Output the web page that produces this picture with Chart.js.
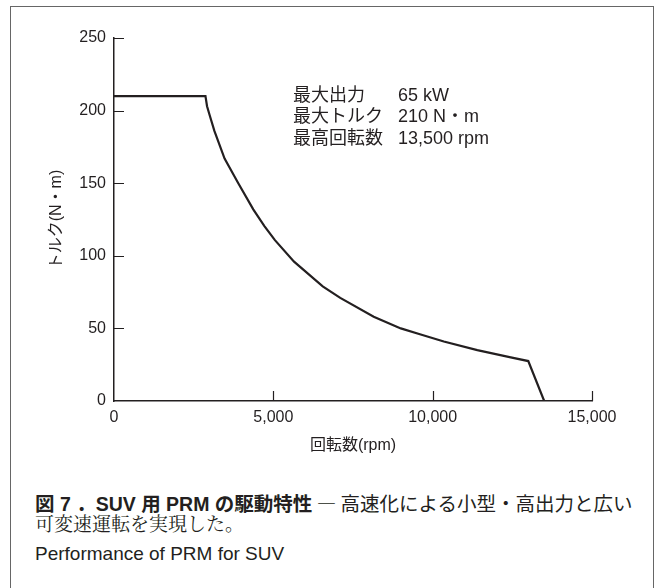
<!DOCTYPE html>
<html>
<head>
<meta charset="utf-8">
<script src="https://cdn.jsdelivr.net/npm/chart.js@4/dist/chart.umd.min.js"></script>
<style>
    body { margin: 0; background: #fff; }
    #wrap { position: relative; width: 659px; height: 588px; overflow: hidden; }
    #frame { position: absolute; left: 10px; top: 6px; width: 644px; height: 620px; border: 1px solid #666; box-sizing: border-box; }
    #chart { position: absolute; left: 0; top: 0; }
    .cap { position: absolute; left: 35px; color: #231f20; white-space: nowrap; font-family: "Noto Sans CJK JP", sans-serif; }
    #cap1 { top: 493px; font-size: 19.5px; line-height: 20px; }
    #cap1 b { font-family: "Liberation Sans", "Noto Sans CJK JP", sans-serif; }
    #cap2 { top: 513px; font-size: 19px; line-height: 20px; font-family: "Noto Serif CJK JP", "Noto Sans CJK JP", serif; }
    #cap3 { top: 543px; font-size: 19px; line-height: 22px; font-family: "Liberation Sans", sans-serif; }
</style>
</head>
<body>
<div id="wrap">
    <div id="frame"></div>
    <canvas id="chart" width="659" height="470"></canvas>
    <div class="cap" id="cap1"><b>図 7 ．SUV 用 PRM の駆動特性</b> ― 高速化による小型・高出力と広い</div>
    <div class="cap" id="cap2">可変速運転を実現した。</div>
    <div class="cap" id="cap3">Performance of PRM for SUV</div>
</div>
<script>
// values
var rpm = [0, 2870, 2920, 3000, 3150, 3470, 3900, 4370, 4720, 5050, 5650, 6550, 7100, 8150, 9000, 9600, 10350, 11400, 12450, 13000, 13500];
var torque = [210, 210, 203, 197, 186, 167, 150, 132, 120.5, 110.8, 96, 79, 71, 58, 50, 46, 41, 35, 30, 27.5, 0];
var xTicks = [0, 5000, 10000, 15000];
var yTicks = [0, 50, 100, 150, 200, 250];
var specNames = ["最大出力", "最大トルク", "最高回転数"];
var specValues = ["65 kW", "210 N・m", "13,500 rpm"];

var ink = "#231f20";
var latin = "'Liberation Sans', 'Noto Sans CJK JP', sans-serif";

var points = rpm.map(function (r, i) {
    return { x: r, y: torque[i] };
});

// inward tick marks + spec text
var extras = {
    id: "extras",
    afterDraw: function (chart) {
        var ctx = chart.ctx;
        var xs = chart.scales.x;
        var ys = chart.scales.y;
        ctx.save();
        ctx.strokeStyle = ink;
        ctx.lineWidth = 1.2;
        ctx.beginPath();
        xTicks.forEach(function (v) {
            if (v === 0) return;
            var px = Math.round(xs.getPixelForValue(v)) + 0.5;
            ctx.moveTo(px, ys.bottom);
            ctx.lineTo(px, ys.bottom - 10);
        });
        yTicks.forEach(function (v) {
            if (v === 0) return;
            var py = Math.round(ys.getPixelForValue(v)) + 0.5;
            ctx.moveTo(xs.left, py);
            ctx.lineTo(xs.left + 10, py);
        });
        ctx.stroke();

        ctx.fillStyle = ink;
        ctx.font = "18px " + latin;
        ctx.textBaseline = "middle";
        specNames.forEach(function (name, i) {
            var y = 96 + i * 21.5;
            ctx.fillText(name, 293, y);
            ctx.fillText(specValues[i], 398, y);
        });
        ctx.restore();
    },
};

new Chart(document.getElementById("chart"), {
    type: "line",
    data: {
        datasets: [
            {
                data: points,
                borderColor: ink,
                borderWidth: 2.2,
                pointRadius: 0,
                tension: 0,
                fill: false,
            },
        ],
    },
    options: {
        responsive: false,
        animation: false,
        events: [],
        layout: { padding: { top: 38, right: 67, left: 0, bottom: 0 } },
        plugins: { legend: { display: false }, tooltip: { enabled: false } },
        scales: {
            x: {
                type: "linear",
                min: 0,
                max: 15000,
                afterFit: function (s) { s.height = 69; },
                afterBuildTicks: function (s) {
                    s.ticks = xTicks.map(function (v) { return { value: v }; });
                },
                grid: { display: false, drawTicks: false },
                border: { display: true, color: ink, width: 1.5 },
                ticks: {
                    color: ink,
                    padding: 7,
                    maxRotation: 0,
                    font: { family: latin, size: 16 },
                    callback: function (v) { return v.toLocaleString("en-US"); },
                },
                title: {
                    display: true,
                    text: "回転数(rpm)",
                    color: ink,
                    font: { family: latin, size: 16 },
                    padding: { top: 0, bottom: 15 },
                },
            },
            y: {
                type: "linear",
                min: 0,
                max: 250,
                afterFit: function (s) { s.width = 114; },
                afterBuildTicks: function (s) {
                    s.ticks = yTicks.map(function (v) { return { value: v }; });
                },
                grid: { display: false, drawTicks: false },
                border: { display: true, color: ink, width: 1.5 },
                ticks: {
                    color: ink,
                    padding: 8,
                    font: { family: latin, size: 16 },
                },
                title: {
                    display: true,
                    text: "トルク(N・m)",
                    color: ink,
                    font: { family: latin, size: 16 },
                    padding: { top: 47, bottom: 0 },
                },
            },
        },
    },
    plugins: [extras],
});
</script>
</body>
</html>
